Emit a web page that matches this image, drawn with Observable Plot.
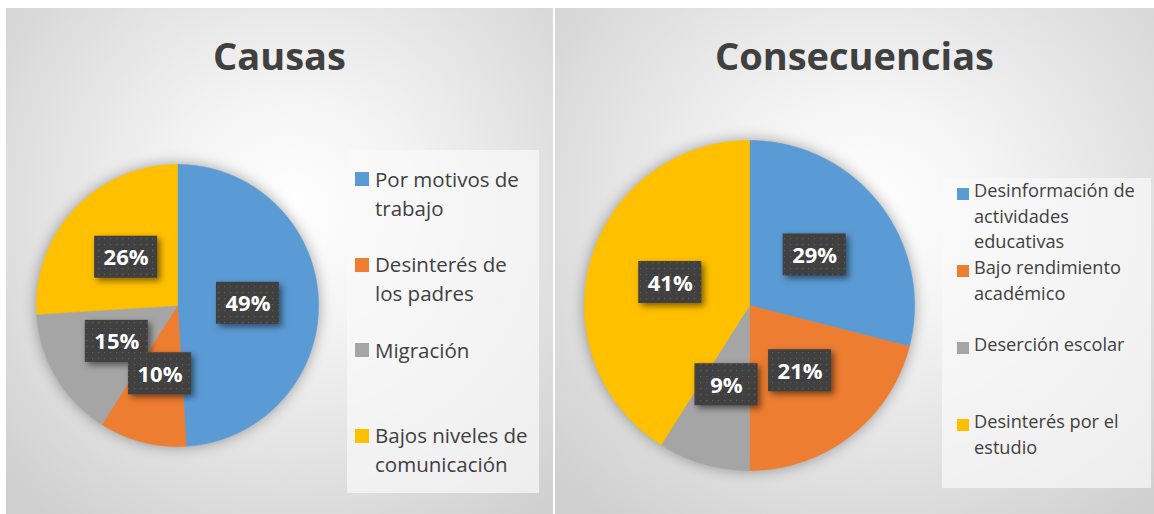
<!DOCTYPE html>
<html><head><meta charset="utf-8">
<script src="https://cdn.jsdelivr.net/npm/d3@7"></script>
<script src="https://cdn.jsdelivr.net/npm/@observablehq/plot@0.6"></script>
<style>
body{margin:0;background:#fff;font-family:"Open Sans",sans-serif;}
#root{position:relative;width:1154px;height:514px;overflow:hidden;background:#fff;}
.panel{position:absolute;top:8px;height:506px;overflow:hidden;
  background:radial-gradient(ellipse 72% 78% at 52% 40%, #ffffff 0%, #f4f4f4 30%, #cfcfcf 100%);}
.title{position:absolute;left:0;right:0;text-align:center;font-weight:700;color:#404040;font-size:38px;line-height:38px;top:28px;}
.legend{position:absolute;background:rgba(250,250,250,0.7);}
.item{position:absolute;color:#404040;}
.sw{position:absolute;}
.pie{position:absolute;overflow:visible;}
</style>
</head><body>
<div id="root">
  <div class="panel" id="pL" style="left:6px;width:547px;"></div>
  <div class="panel" id="pR" style="left:555px;width:599px;"></div>
</div>
<script>
const colors = ["#5B9BD5", "#ED7D31", "#A5A5A5", "#FFC000"];

const causasTitle = "Causas";
const causasCategories = ["Por motivos de trabajo", "Desinterés de los padres", "Migración", "Bajos niveles de comunicación"];
const causasValues = [49, 10, 15, 26];

const consecTitle = "Consecuencias";
const consecCategories = ["Desinformación de actividades educativas", "Bajo rendimiento académico", "Deserción escolar", "Desinterés por el estudio"];
const consecValues = [29, 21, 9, 41];

function drawPie(panel, id, cats, vals, R, cx, cy) {
  const pad = 24;
  const total = d3.sum(vals);
  let acc = 0;
  const pts = [], labels = [];
  cats.forEach((c, i) => {
    const a0 = acc / total * 2 * Math.PI;
    acc += vals[i];
    const a1 = acc / total * 2 * Math.PI;
    const n = Math.max(2, Math.ceil((a1 - a0) / (Math.PI / 180)));
    pts.push({cat: c, x: 0, y: 0});
    for (let k = 0; k <= n; k++) {
      const a = a0 + (a1 - a0) * k / n;
      pts.push({cat: c, x: Math.sin(a), y: Math.cos(a)});
    }
    pts.push({cat: c, x: 0, y: 0});
    const am = (a0 + a1) / 2;
    labels.push({cat: c, v: vals[i], x: 0.5 * Math.sin(am), y: 0.5 * Math.cos(am)});
  });
  const ext = 1 + pad / R;
  const W = 2 * (R + pad);
  const bw = 31.5 / R, bh = 21 / R;
  const svg = Plot.plot({
    width: W, height: W, margin: 0,
    x: {domain: [-ext, ext], axis: null},
    y: {domain: [-ext, ext], axis: null},
    color: {domain: cats, range: colors},
    style: {background: "transparent", overflow: "visible"},
    marks: [
      Plot.line(pts, {x: "x", y: "y", z: "cat", fill: "cat", stroke: "cat", strokeWidth: 0.6, curve: "linear"}),
      Plot.rect(labels, {x1: d => d.x - bw, x2: d => d.x + bw, y1: d => d.y - bh, y2: d => d.y + bh, fill: "#404040"}),
      Plot.rect(labels, {x1: d => d.x - bw, x2: d => d.x + bw, y1: d => d.y - bh, y2: d => d.y + bh, fill: `url(#dots-${id})`}),
      Plot.text(labels, {x: "x", y: "y", text: d => d.v + "%", fill: "white", fontSize: 22, fontWeight: "bold", fontFamily: "Open Sans", dy: 1})
    ]
  });
  const s = d3.select(svg);
  const defs = s.insert("defs", ":first-child");
  const p = defs.append("pattern").attr("id", `dots-${id}`).attr("width", 6).attr("height", 6).attr("patternUnits", "userSpaceOnUse");
  p.append("rect").attr("x", 2).attr("y", 2).attr("width", 1.2).attr("height", 1.2).attr("fill", "#5e5e5e");
  s.select('g[aria-label="line"]').style("filter", "drop-shadow(0px 0px 7px rgba(0,0,0,0.35))");
  s.select('g[aria-label="rect"]').style("filter", "drop-shadow(3px 3px 3px rgba(0,0,0,0.5))");
  svg.classList.add("pie");
  svg.style.left = (cx - R - pad) + "px";
  svg.style.top = (cy - R - pad) + "px";
  panel.appendChild(svg);
}

function drawLegend(panel, cats, box, item) {
  const lg = document.createElement("div");
  lg.className = "legend";
  Object.assign(lg.style, {left: box.left + "px", top: box.top + "px", width: box.width + "px", height: box.height + "px"});
  panel.appendChild(lg);
  cats.forEach((c, i) => {
    const top = item.top0 + i * item.step;
    const sw = document.createElement("div");
    sw.className = "sw";
    Object.assign(sw.style, {left: item.swX + "px", top: (top + item.swDy) + "px", width: item.sw + "px", height: item.sw + "px", background: colors[i]});
    panel.appendChild(sw);
    const t = document.createElement("div");
    t.className = "item";
    t.textContent = c;
    Object.assign(t.style, {left: item.textX + "px", top: top + "px", width: item.textW + "px", fontSize: item.fs + "px", lineHeight: item.lh + "px"});
    panel.appendChild(t);
  });
}

function drawTitle(panel, text) {
  const t = document.createElement("div");
  t.className = "title";
  t.textContent = text;
  panel.appendChild(t);
}

const pL = document.getElementById("pL");
const pR = document.getElementById("pR");

drawTitle(pL, causasTitle);
drawPie(pL, "L", causasCategories, causasValues, 141, 171, 297);
drawLegend(pL, causasCategories,
  {left: 341, top: 142, width: 192, height: 343},
  {top0: 156.5, step: 85.5, swX: 349, swDy: 7.5, sw: 14, textX: 369, textW: 158, fs: 20.5, lh: 29});

drawTitle(pR, consecTitle);
drawPie(pR, "R", consecCategories, consecValues, 165, 194, 297);
drawLegend(pR, consecCategories,
  {left: 387, top: 170, width: 209, height: 310},
  {top0: 170.2, step: 77, swX: 402, swDy: 9.8, sw: 12, textX: 419, textW: 175, fs: 18.2, lh: 25.5});
</script>
</body></html>
